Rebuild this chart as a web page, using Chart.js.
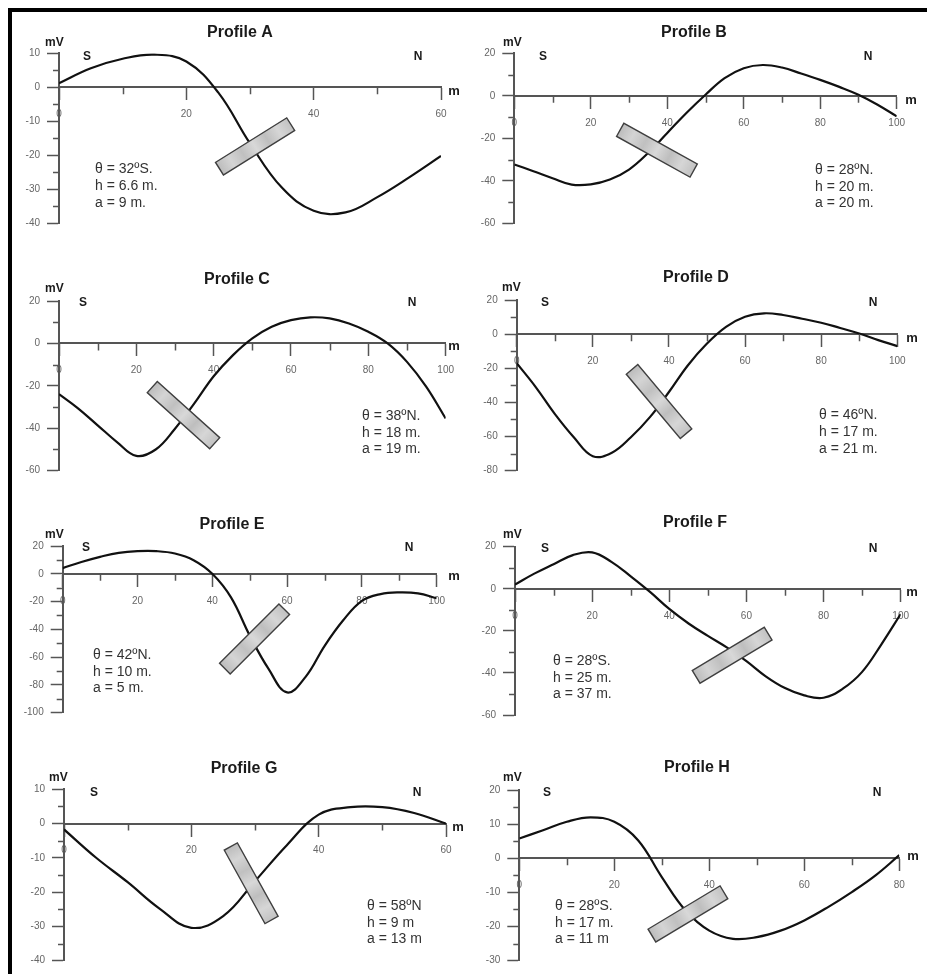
<!DOCTYPE html>
<html>
<head>
<meta charset="utf-8">
<title>Self-potential profiles A-H</title>
<script src="https://cdn.jsdelivr.net/npm/chart.js@4.4.1/dist/chart.umd.min.js"></script>
<style>
  html, body { margin: 0; padding: 0; background: #fff; }
  #page { position: relative; width: 927px; height: 974px; overflow: hidden; background: #fff; }
  #frame { position: absolute; left: 8px; top: 8px; right: 0; bottom: 0; border-top: 4px solid #000; border-left: 4px solid #000; }
  canvas { position: absolute; }
</style>
</head>
<body>
<div id="page"><div id="frame"></div></div>
<script>
// values: distance along profile (m) and potential (mV)
const profileNames = ['Profile A', 'Profile B', 'Profile C', 'Profile D', 'Profile E', 'Profile F', 'Profile G', 'Profile H'];

const distA = [0, 5, 10, 15, 20, 25, 30, 35, 40, 45, 50, 55, 60];
const mvA   = [1.2, 5.6, 8.4, 9.6, 7.6, -1.5, -16.5, -29.5, -36.3, -36.8, -32.3, -26.5, -20.2];

const distB = [0, 5, 10, 15, 20, 25, 30, 35, 40, 45, 50, 55, 60, 65, 70, 75, 80, 85, 90, 95, 100];
const mvB   = [-32.3, -35.5, -38.8, -41.8, -41.7, -39.4, -34.7, -26.9, -17.5, -8.1, 0.5, 8.3, 13, 14.5, 13.3, 10.5, 7.5, 4.2, 0.5, -4.2, -9.7];

const distC = [0, 5, 10, 15, 20, 25, 30, 35, 40, 45, 50, 55, 60, 65, 70, 75, 80, 85, 90, 95, 100];
const mvC   = [-23.9, -30.7, -38.6, -46.5, -53, -50, -40.2, -28.3, -15.5, -5.5, 2.4, 7.9, 11, 12.3, 11.8, 9.4, 5.5, 0, -8.7, -20.5, -35.4];

const distD = [0, 5, 10, 15, 20, 25, 30, 35, 40, 45, 50, 55, 60, 65, 70, 75, 80, 85, 90, 95, 100];
const mvD   = [-17, -31, -46.7, -60.4, -71.5, -69.5, -60.4, -48.6, -33.9, -18.2, -5.5, 4.3, 10.2, 12.2, 11.2, 9, 6.7, 3.6, 0.4, -3.5, -7];

const distE = [0, 5, 10, 15, 20, 25, 30, 35, 40, 45, 50, 55, 60, 65, 70, 75, 80, 85, 90, 95, 100];
const mvE   = [4.1, 8.5, 12.2, 15.1, 16.3, 16.3, 14.6, 9.8, 0, -17, -44.4, -68.3, -85.4, -74, -52, -33.5, -19.5, -14.6, -13.4, -14.1, -17.6];

const distF = [0, 5, 10, 15, 20, 25, 30, 35, 40, 45, 50, 55, 60, 65, 70, 75, 80, 85, 90, 95, 100];
const mvF   = [2, 7.2, 11.7, 16, 17.3, 12.8, 5.9, -1.5, -9.6, -16.5, -22.4, -28, -34.4, -41.6, -47.2, -50.7, -51.8, -47.5, -39.5, -26.4, -12];

const distG = [0, 5, 10, 15, 20, 25, 30, 35, 40, 45, 50, 55, 60];
const mvG   = [-1.7, -9.9, -17.1, -24.8, -30.4, -27, -16.8, -6.3, 2.6, 4.8, 4.8, 3.1, 0];

const distH = [0, 5, 10, 15, 20, 25, 30, 35, 40, 45, 50, 55, 60, 65, 70, 75, 80];
const mvH   = [5.8, 8.2, 10.7, 12, 10.7, 5.3, -5.5, -15.3, -21.2, -23.6, -23.1, -21.2, -18.2, -14.3, -9.9, -5, 0.9];

const distances  = [distA, distB, distC, distD, distE, distF, distG, distH];
const potentials = [mvA, mvB, mvC, mvD, mvE, mvF, mvG, mvH];

// axis ranges and tick steps
const yMin  = [-40, -60, -60, -80, -100, -60, -40, -30];
const yMax  = [10, 20, 20, 20, 20, 20, 10, 20];
const yStep = [10, 20, 20, 20, 20, 20, 10, 10];
const xMax  = [60, 100, 100, 100, 100, 100, 60, 80];
const xLabelStep = 20;
const xMinorStep = 10;

// model parameters printed on each panel
const dipText   = ['θ = 32ºS.', 'θ = 28ºN.', 'θ = 38ºN.', 'θ = 46ºN.', 'θ = 42ºN.', 'θ = 28ºS.', 'θ = 58ºN', 'θ = 28ºS.'];
const depthText = ['h = 6.6 m.', 'h = 20 m.', 'h = 18 m.', 'h = 17 m.', 'h = 10 m.', 'h = 25 m.', 'h = 9 m', 'h = 17 m.'];
const halfText  = ['a = 9 m.', 'a = 20 m.', 'a = 19 m.', 'a = 21 m.', 'a = 5 m.', 'a = 37 m.', 'a = 13 m', 'a = 11 m'];

// polarized body: centre in data units, tilt on screen (degrees)
const bodyX     = [30.8, 37.3, 32.2, 37.4, 51.3, 56.3, 29.4, 35.5];
const bodyY     = [-17.4, -25.6, -33.8, -39.5, -46.9, -31.6, -17.4, -16.3];
const bodyAngle = [-32, 29, 42, 50, -45, -31, 61, -31];

// page layout (pixels)
const panels = [
  { cell: [13, 13, 450, 232],  ax: 59,    top: 53.3,  bottom: 223.3, right: 441,   title: [240, 33],  mv: [45, 43],   s: [87, 57],   n: [418, 57],  m: [454, 91],  note: [95, 169.5] },
  { cell: [463, 13, 464, 232], ax: 514.3, top: 53.3,  bottom: 223.3, right: 896.7, title: [694, 33],  mv: [503, 43],  s: [543, 57],  n: [868, 57],  m: [911, 100], note: [815, 170] },
  { cell: [13, 250, 450, 245], ax: 59,    top: 301,   bottom: 470.7, right: 445.7, title: [237, 280], mv: [45, 289],  s: [83, 303],  n: [412, 303], m: [454, 346], note: [362, 416] },
  { cell: [463, 250, 464, 245], ax: 516.7, top: 300,  bottom: 470.7, right: 897.3, title: [696, 278], mv: [502, 288], s: [545, 303], n: [873, 303], m: [912, 338], note: [819, 415.5] },
  { cell: [13, 495, 450, 243], ax: 62.7,  top: 546,   bottom: 712.7, right: 436.7, title: [232, 525], mv: [45, 535],  s: [86, 548],  n: [409, 548], m: [454, 576], note: [93, 655] },
  { cell: [463, 495, 464, 243], ax: 515,  top: 546.7, bottom: 715,   right: 900.7, title: [695, 523], mv: [503, 535], s: [545, 549], n: [873, 549], m: [912, 592], note: [553, 661] },
  { cell: [13, 738, 450, 236], ax: 64,    top: 789.3, bottom: 960.7, right: 446,   title: [244, 769], mv: [49, 778],  s: [94, 793],  n: [417, 793], m: [458, 827], note: [367, 906] },
  { cell: [463, 738, 464, 236], ax: 519.3, top: 790,  bottom: 960.7, right: 899.3, title: [697, 768], mv: [503, 778], s: [547, 793], n: [877, 793], m: [913, 856], note: [555, 906] }
];

const FONT = '"Liberation Sans", Arial, Helvetica, sans-serif';
const axisGrey = '#555';
const labelGrey = '#666';
const Y_AXIS_W = 40;

const decor = {
  id: 'decor',
  afterDatasetsDraw(chart, args, opts) {
    const i = opts.index;
    const ctx = chart.ctx;
    const cx = chart.scales.x.getPixelForValue(bodyX[i]);
    const cy = chart.scales.y.getPixelForValue(bodyY[i]);
    const len = 84, wid = 15;
    ctx.save();
    ctx.translate(cx, cy);
    ctx.rotate(bodyAngle[i] * Math.PI / 180);
    const g = ctx.createLinearGradient(-len / 2, 0, len / 2, 0);
    const stops = ['#bcbcbc', '#d4d4d4', '#c0c0c0', '#d8d8d8', '#bebebe', '#d6d6d6', '#c2c2c2'];
    stops.forEach((c, k) => g.addColorStop(k / (stops.length - 1), c));
    ctx.fillStyle = g;
    ctx.fillRect(-len / 2, -wid / 2, len, wid);
    ctx.strokeStyle = '#3f3f3f';
    ctx.lineWidth = 1.4;
    ctx.strokeRect(-len / 2, -wid / 2, len, wid);
    ctx.restore();
  },
  afterDraw(chart, args, opts) {
    const i = opts.index;
    const p = panels[i];
    const ctx = chart.ctx;
    const xs = chart.scales.x, ys = chart.scales.y;
    const ox = p.cell[0], oy = p.cell[1];
    const left = xs.getPixelForValue(0);
    const zero = ys.getPixelForValue(0);

    // minor ticks
    ctx.save();
    ctx.strokeStyle = axisGrey;
    ctx.lineWidth = 1.5;
    ctx.beginPath();
    const half = yStep[i] / 2;
    for (let k = 1; yMin[i] + k * half < yMax[i]; k += 2) {
      const py = Math.round(ys.getPixelForValue(yMin[i] + k * half)) + 0.5;
      ctx.moveTo(left - 6, py);
      ctx.lineTo(left, py);
    }
    for (let v = xMinorStep; v < xMax[i]; v += xLabelStep) {
      const px = Math.round(xs.getPixelForValue(v)) + 0.5;
      ctx.moveTo(px, zero);
      ctx.lineTo(px, zero + 7);
    }
    ctx.stroke();

    // texts
    ctx.textBaseline = 'middle';
    ctx.fillStyle = '#1a1a1a';
    ctx.textAlign = 'center';
    ctx.font = 'bold 16px ' + FONT;
    ctx.fillText(profileNames[i], p.title[0] - ox, p.title[1] - oy);

    ctx.font = 'bold 12px ' + FONT;
    ctx.textAlign = 'left';
    ctx.fillText('mV', p.mv[0] - ox, p.mv[1] - oy);
    ctx.textAlign = 'center';
    ctx.fillText('S', p.s[0] - ox, p.s[1] - oy);
    ctx.fillText('N', p.n[0] - ox, p.n[1] - oy);
    ctx.font = 'bold 13px ' + FONT;
    ctx.fillText('m', p.m[0] - ox, p.m[1] - oy);

    ctx.font = '14px ' + FONT;
    ctx.fillStyle = '#333';
    ctx.textAlign = 'left';
    [dipText[i], depthText[i], halfText[i]].forEach((t, k) => {
      ctx.fillText(t, p.note[0] - ox, p.note[1] - oy + k * 16.7);
    });
    ctx.restore();
  }
};

const page = document.getElementById('page');

panels.forEach((p, i) => {
  const [cl, ct, cw, ch] = p.cell;
  const canvas = document.createElement('canvas');
  canvas.width = cw;
  canvas.height = ch;
  canvas.style.left = cl + 'px';
  canvas.style.top = ct + 'px';
  canvas.style.width = cw + 'px';
  canvas.style.height = ch + 'px';
  page.appendChild(canvas);

  const points = distances[i].map((d, k) => ({ x: d, y: potentials[i][k] }));

  new Chart(canvas.getContext('2d'), {
    type: 'line',
    data: {
      datasets: [{
        data: points,
        borderColor: '#111',
        borderWidth: 2.2,
        pointRadius: 0,
        fill: false,
        tension: 0.4
      }]
    },
    options: {
      responsive: false,
      animation: false,
      devicePixelRatio: 1,
      events: [],
      layout: {
        padding: {
          left: p.ax - cl - Y_AXIS_W,
          top: p.top - ct,
          right: cl + cw - p.right,
          bottom: ct + ch - p.bottom
        }
      },
      plugins: {
        legend: { display: false },
        tooltip: { enabled: false },
        decor: { index: i }
      },
      scales: {
        x: {
          type: 'linear',
          min: 0,
          max: xMax[i],
          position: { y: 0 },
          border: { display: true, color: axisGrey, width: 2 },
          grid: { drawOnChartArea: false, drawTicks: true, tickLength: 12, tickColor: axisGrey, tickWidth: 1.5 },
          ticks: { stepSize: xLabelStep, autoSkip: false, maxRotation: 0, padding: 9, color: labelGrey, font: { family: FONT, size: 10 } }
        },
        y: {
          type: 'linear',
          min: yMin[i],
          max: yMax[i],
          position: 'left',
          afterFit(scale) { scale.width = Y_AXIS_W; },
          border: { display: true, color: axisGrey, width: 2 },
          grid: { drawOnChartArea: false, drawTicks: true, tickLength: 12, tickColor: axisGrey, tickWidth: 1.5 },
          ticks: { stepSize: yStep[i], autoSkip: false, padding: 7, color: labelGrey, font: { family: FONT, size: 10 } }
        }
      }
    },
    plugins: [decor]
  });
});
</script>
</body>
</html>
